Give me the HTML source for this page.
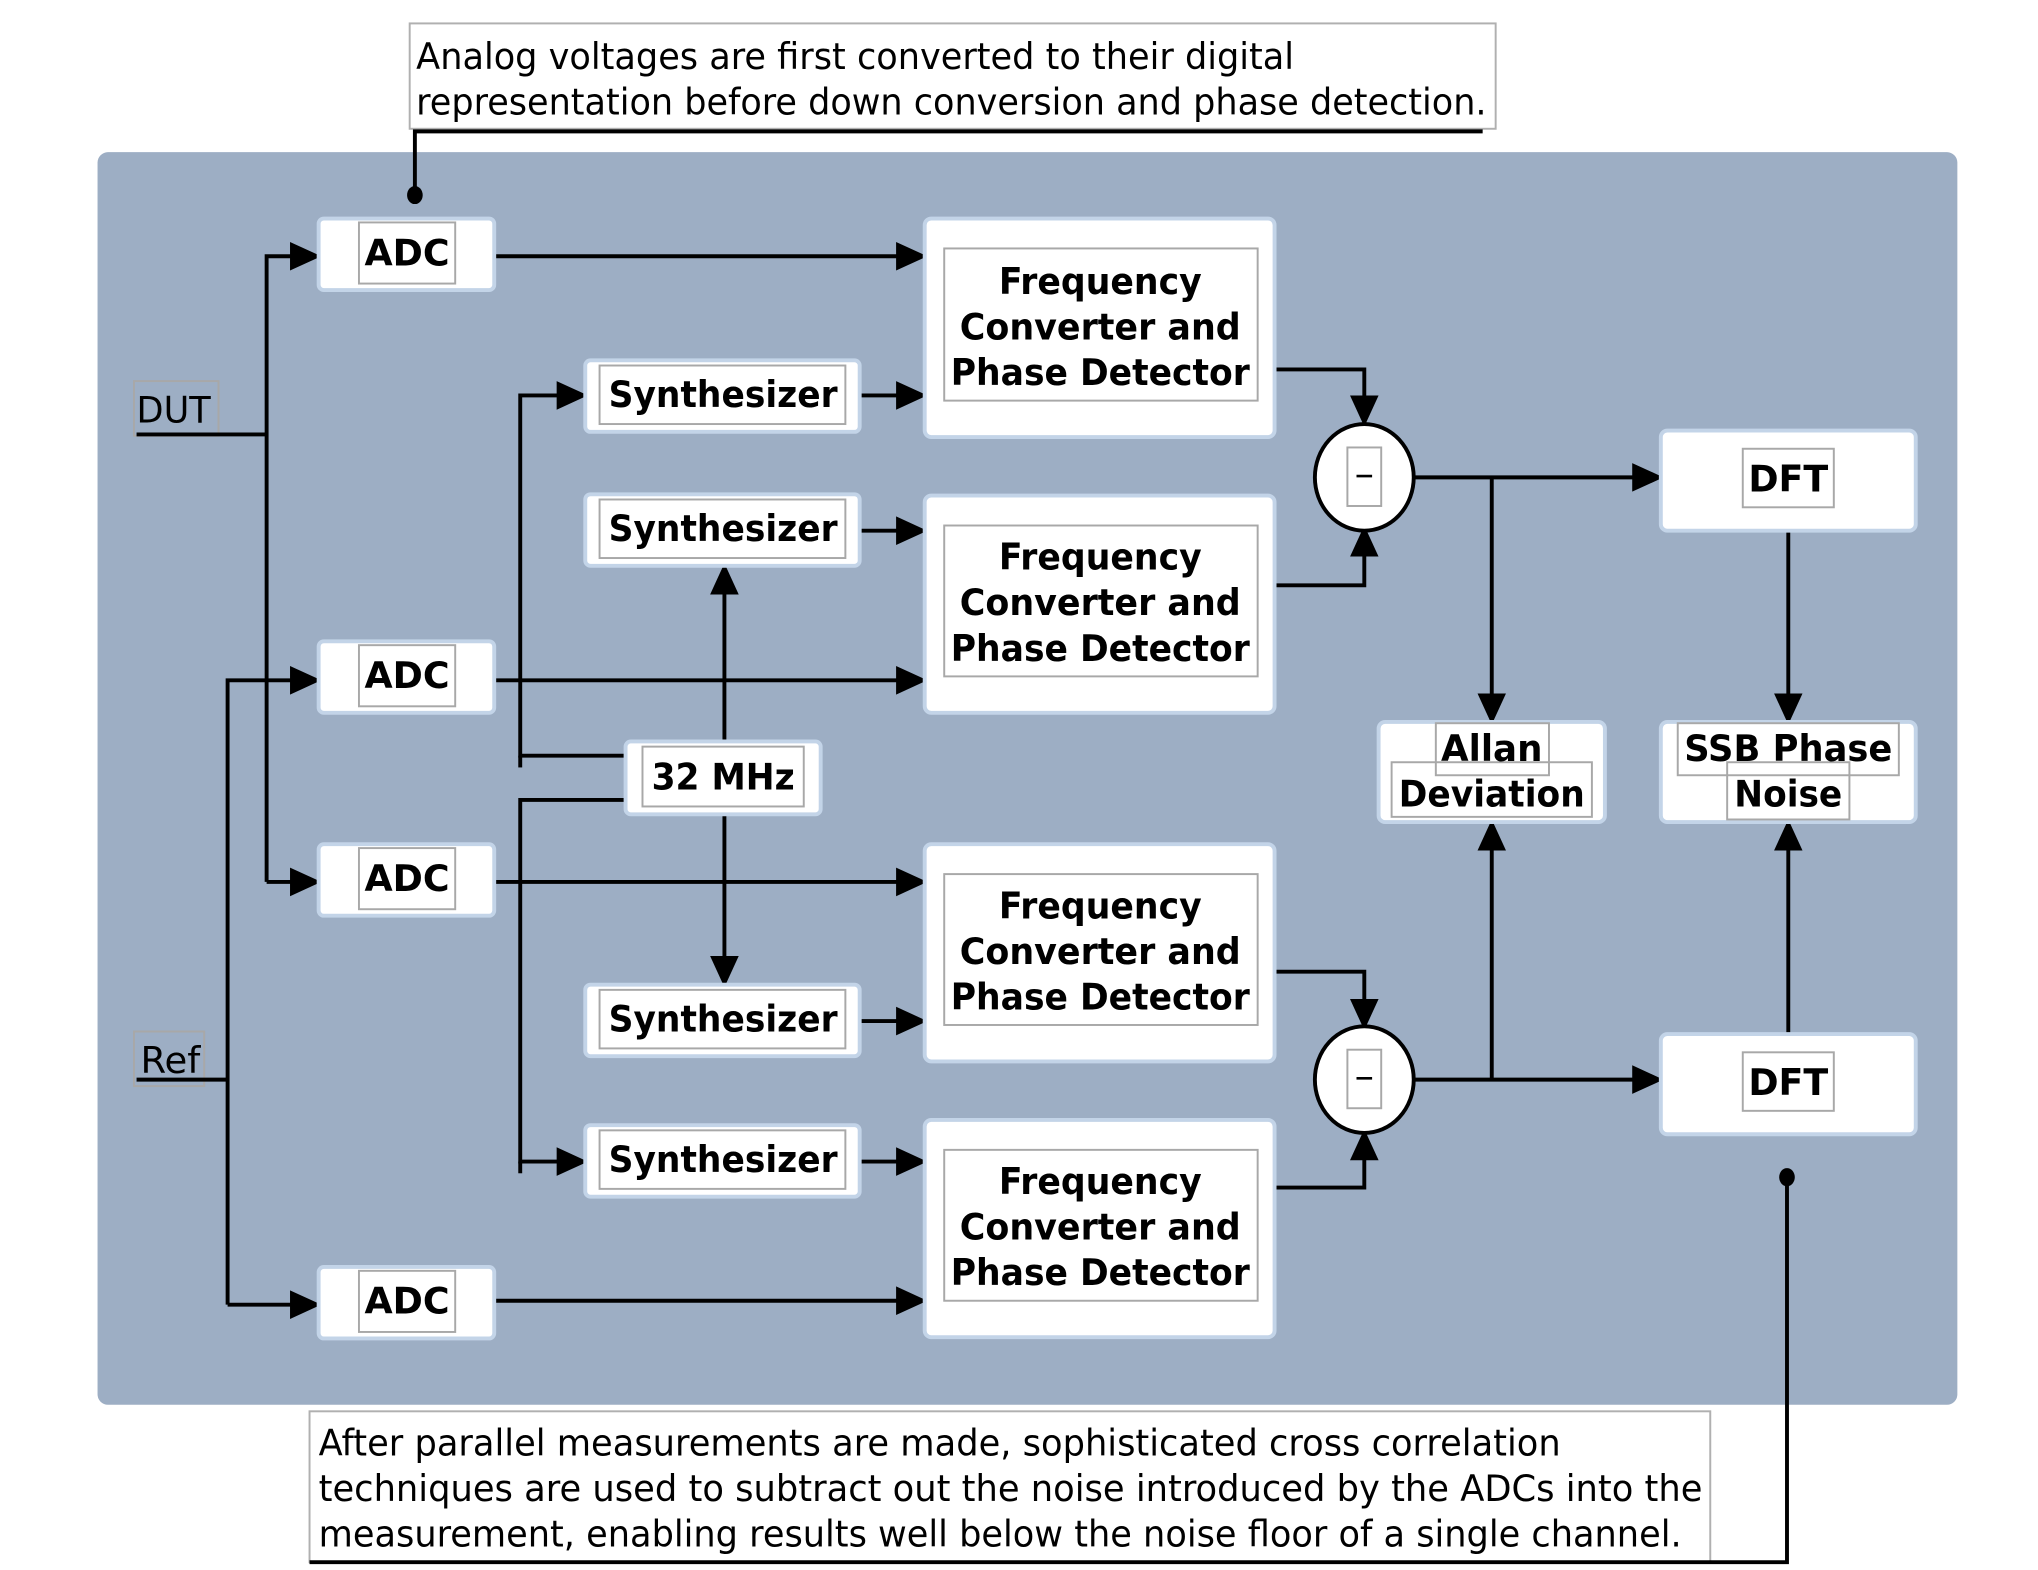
<!DOCTYPE html>
<html><head><meta charset="utf-8"><style>html,body{margin:0;padding:0;background:#fff}svg{display:block}</style></head>
<body>
<svg width="2038" height="1570" viewBox="0 0 1567 1207" preserveAspectRatio="none" xmlns="http://www.w3.org/2000/svg">
<defs>
<marker id="a" markerUnits="userSpaceOnUse" markerWidth="24" markerHeight="24" viewBox="0 0 24 24" refX="22" refY="12" orient="auto"><path d="M0,1 L24,12 L0,23 z" fill="#000"/></marker>
<marker id="d" markerUnits="userSpaceOnUse" markerWidth="14" markerHeight="14" viewBox="0 0 14 14" refX="7" refY="7"><ellipse cx="7" cy="7" rx="6" ry="7" fill="#000"/></marker>
</defs>
<style>
.bx{fill:#fff;stroke:#c3d4e8;stroke-width:3}
.in{fill:none;stroke:#a8a8a8;stroke-width:1.5}
.b{font-family:"DejaVu Sans","Liberation Sans",sans-serif;font-weight:bold;font-size:28px;fill:#000}
.n{font-family:"DejaVu Sans","Liberation Sans",sans-serif;font-size:28px;fill:#000}
.l{fill:none;stroke:#000;stroke-width:3}
</style>
<rect x="75" y="117" width="1430" height="963" rx="8" fill="#9daec4"/>

<rect x="315" y="18" width="835" height="81" fill="#fff" stroke="#b0b0b0" stroke-width="1.5"/>
<text class="n" x="320" y="53" textLength="675" lengthAdjust="spacingAndGlyphs">Analog voltages are first converted to their digital</text>
<text class="n" x="320" y="88" textLength="823" lengthAdjust="spacingAndGlyphs">representation before down conversion and phase detection.</text>
<path class="l" d="M1140,101 H319 V150" marker-end="url(#d)"/>

<rect x="238" y="1085" width="1077" height="116" fill="#fff" stroke="#b0b0b0" stroke-width="1.5"/>
<text class="n" x="245" y="1119" textLength="955" lengthAdjust="spacingAndGlyphs">After parallel measurements are made, sophisticated cross correlation</text>
<text class="n" x="245" y="1154" textLength="1064" lengthAdjust="spacingAndGlyphs">techniques are used to subtract out the noise introduced by the ADCs into the</text>
<text class="n" x="245" y="1189" textLength="1048" lengthAdjust="spacingAndGlyphs">measurement, enabling results well below the noise floor of a single channel.</text>
<path class="l" d="M238,1201 H1374 V905" marker-end="url(#d)"/>

<rect x="103" y="293" width="65" height="42" class="in"/>
<text class="n" x="105" y="325" textLength="57" lengthAdjust="spacingAndGlyphs">DUT</text>
<path class="l" d="M105,334 H205"/>
<rect x="103" y="793" width="54" height="42" class="in"/>
<text class="n" x="108" y="825" textLength="46" lengthAdjust="spacingAndGlyphs">Ref</text>
<path class="l" d="M105,830 H175"/>

<path class="l" d="M205,678 V197 H245" marker-end="url(#a)"/>
<path class="l" d="M205,678 H245" marker-end="url(#a)"/>
<path class="l" d="M175,1003 V523 H245" marker-end="url(#a)"/>
<path class="l" d="M175,1003 H245" marker-end="url(#a)"/>

<path class="l" d="M380,197 H711" marker-end="url(#a)"/>
<path class="l" d="M380,523 H711" marker-end="url(#a)"/>
<path class="l" d="M380,678 H711" marker-end="url(#a)"/>
<path class="l" d="M380,1000 H711" marker-end="url(#a)"/>

<path class="l" d="M661,304 H711" marker-end="url(#a)"/>
<path class="l" d="M661,408 H711" marker-end="url(#a)"/>
<path class="l" d="M661,785 H711" marker-end="url(#a)"/>
<path class="l" d="M661,893 H711" marker-end="url(#a)"/>

<path class="l" d="M481,581 H400 V304 H450" marker-end="url(#a)"/>
<path class="l" d="M400,581 V590"/>
<path class="l" d="M481,615 H400 V893 H450" marker-end="url(#a)"/>
<path class="l" d="M400,893 V902"/>
<path class="l" d="M557,570 V435" marker-end="url(#a)"/>
<path class="l" d="M557,626 V757" marker-end="url(#a)"/>

<path class="l" d="M980,284 H1049 V326" marker-end="url(#a)"/>
<path class="l" d="M980,450 H1049 V406" marker-end="url(#a)"/>
<path class="l" d="M980,747 H1049 V790" marker-end="url(#a)"/>
<path class="l" d="M980,913 H1049 V870" marker-end="url(#a)"/>

<path class="l" d="M1087,367 H1277" marker-end="url(#a)"/>
<path class="l" d="M1147,367 V555" marker-end="url(#a)"/>
<path class="l" d="M1087,830 H1277" marker-end="url(#a)"/>
<path class="l" d="M1147,830 V632" marker-end="url(#a)"/>
<path class="l" d="M1375,408 V555" marker-end="url(#a)"/>
<path class="l" d="M1375,795 V632" marker-end="url(#a)"/>

<g>
<rect class="bx" x="245" y="168" width="135" height="55" rx="4"/><rect class="in" x="276" y="171" width="74" height="47"/><text class="b" x="313" y="204" text-anchor="middle">ADC</text>
<rect class="bx" x="245" y="493" width="135" height="55" rx="4"/><rect class="in" x="276" y="496" width="74" height="47"/><text class="b" x="313" y="529" text-anchor="middle">ADC</text>
<rect class="bx" x="245" y="649" width="135" height="55" rx="4"/><rect class="in" x="276" y="652" width="74" height="47"/><text class="b" x="313" y="685" text-anchor="middle">ADC</text>
<rect class="bx" x="245" y="974" width="135" height="55" rx="4"/><rect class="in" x="276" y="977" width="74" height="47"/><text class="b" x="313" y="1010" text-anchor="middle">ADC</text>
</g>

<g>
<rect class="bx" x="450" y="277" width="211" height="55" rx="4"/><rect class="in" x="461" y="281" width="189" height="45"/><text class="b" x="468" y="313" textLength="176" lengthAdjust="spacingAndGlyphs">Synthesizer</text>
<rect class="bx" x="450" y="380" width="211" height="55" rx="4"/><rect class="in" x="461" y="384" width="189" height="45"/><text class="b" x="468" y="416" textLength="176" lengthAdjust="spacingAndGlyphs">Synthesizer</text>
<rect class="bx" x="450" y="757" width="211" height="55" rx="4"/><rect class="in" x="461" y="761" width="189" height="45"/><text class="b" x="468" y="793" textLength="176" lengthAdjust="spacingAndGlyphs">Synthesizer</text>
<rect class="bx" x="450" y="865" width="211" height="55" rx="4"/><rect class="in" x="461" y="869" width="189" height="45"/><text class="b" x="468" y="901" textLength="176" lengthAdjust="spacingAndGlyphs">Synthesizer</text>
</g>

<rect class="bx" x="481" y="570" width="150" height="56" rx="4"/><rect class="in" x="494" y="574" width="124" height="46"/><text class="b" x="556" y="607" text-anchor="middle" textLength="110" lengthAdjust="spacingAndGlyphs">32 MHz</text>

<g>
<rect class="bx" x="711" y="168" width="269" height="168" rx="5"/><rect class="in" x="726" y="191" width="241" height="117"/>
<text class="b" x="846" y="226" text-anchor="middle" textLength="156" lengthAdjust="spacingAndGlyphs">Frequency</text>
<text class="b" x="846" y="261" text-anchor="middle" textLength="216" lengthAdjust="spacingAndGlyphs">Converter and</text>
<text class="b" x="846" y="296" text-anchor="middle" textLength="230" lengthAdjust="spacingAndGlyphs">Phase Detector</text>

<rect class="bx" x="711" y="381" width="269" height="167" rx="5"/><rect class="in" x="726" y="404" width="241" height="116"/>
<text class="b" x="846" y="438" text-anchor="middle" textLength="156" lengthAdjust="spacingAndGlyphs">Frequency</text>
<text class="b" x="846" y="473" text-anchor="middle" textLength="216" lengthAdjust="spacingAndGlyphs">Converter and</text>
<text class="b" x="846" y="508" text-anchor="middle" textLength="230" lengthAdjust="spacingAndGlyphs">Phase Detector</text>

<rect class="bx" x="711" y="649" width="269" height="167" rx="5"/><rect class="in" x="726" y="672" width="241" height="116"/>
<text class="b" x="846" y="706" text-anchor="middle" textLength="156" lengthAdjust="spacingAndGlyphs">Frequency</text>
<text class="b" x="846" y="741" text-anchor="middle" textLength="216" lengthAdjust="spacingAndGlyphs">Converter and</text>
<text class="b" x="846" y="776" text-anchor="middle" textLength="230" lengthAdjust="spacingAndGlyphs">Phase Detector</text>

<rect class="bx" x="711" y="861" width="269" height="167" rx="5"/><rect class="in" x="726" y="884" width="241" height="116"/>
<text class="b" x="846" y="918" text-anchor="middle" textLength="156" lengthAdjust="spacingAndGlyphs">Frequency</text>
<text class="b" x="846" y="953" text-anchor="middle" textLength="216" lengthAdjust="spacingAndGlyphs">Converter and</text>
<text class="b" x="846" y="988" text-anchor="middle" textLength="230" lengthAdjust="spacingAndGlyphs">Phase Detector</text>
</g>

<ellipse cx="1049" cy="367" rx="38" ry="41" fill="#fff" stroke="#000" stroke-width="3"/>
<rect class="in" x="1036" y="344" width="26" height="45"/><path d="M1043,366 H1055" stroke="#000" stroke-width="2"/>
<ellipse cx="1049" cy="830" rx="38" ry="41" fill="#fff" stroke="#000" stroke-width="3"/>
<rect class="in" x="1036" y="807" width="26" height="45"/><path d="M1043,829 H1055" stroke="#000" stroke-width="2"/>

<rect class="bx" x="1277" y="331" width="196" height="77" rx="5"/><rect class="in" x="1340" y="345" width="70" height="45"/><text class="b" x="1375" y="378" text-anchor="middle">DFT</text>
<rect class="bx" x="1277" y="795" width="196" height="77" rx="5"/><rect class="in" x="1340" y="809" width="70" height="45"/><text class="b" x="1375" y="842" text-anchor="middle">DFT</text>

<rect class="bx" x="1060" y="555" width="174" height="77" rx="5"/>
<rect class="in" x="1104" y="556" width="87" height="40"/><rect class="in" x="1070" y="586" width="154" height="42"/>
<text class="b" x="1147" y="585" text-anchor="middle" textLength="78" lengthAdjust="spacingAndGlyphs">Allan</text>
<text class="b" x="1147" y="620" text-anchor="middle" textLength="143" lengthAdjust="spacingAndGlyphs">Deviation</text>
<rect class="bx" x="1277" y="555" width="196" height="77" rx="5"/>
<rect class="in" x="1290" y="556" width="170" height="40"/><rect class="in" x="1328" y="586" width="94" height="44"/>
<text class="b" x="1375" y="585" text-anchor="middle" textLength="160" lengthAdjust="spacingAndGlyphs">SSB Phase</text>
<text class="b" x="1375" y="620" text-anchor="middle" textLength="83" lengthAdjust="spacingAndGlyphs">Noise</text>
</svg>
</body></html>
